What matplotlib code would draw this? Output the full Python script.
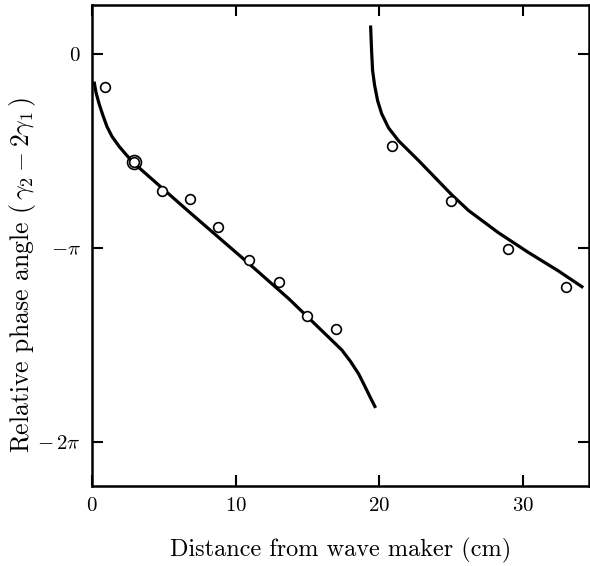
import numpy as np
import matplotlib
matplotlib.use("Agg")
from matplotlib import pyplot as plt

# measured points (cm, rad)
pts_x = [0.9, 2.9, 4.9, 6.8, 8.8, 10.9, 13.0, 15.0, 17.0, 20.9, 25.0, 29.0, 33.0]
pts_y = [-0.52, -1.75, -2.21, -2.35, -2.79, -3.34, -3.69, -4.24, -4.45, -1.48, -2.37, -3.15, -3.77]

# theory curves
c1_x = [0.14, 0.28, 0.49, 0.76, 1.04, 1.39, 1.88, 2.36, 2.85, 6.75, 10.92, 13.70,
        17.39, 18.01, 18.57, 18.98, 19.40, 19.75]
c1_y = [-0.44, -0.62, -0.80, -0.99, -1.17, -1.33, -1.49, -1.62, -1.75, -2.55, -3.39, -3.96,
        -4.79, -4.98, -5.18, -5.37, -5.57, -5.73]
c2_x = [19.40, 19.47, 19.54, 19.68, 19.89, 20.17, 20.65, 21.35, 22.74, 25.03, 26.22,
        28.30, 30.39, 32.48, 34.21]
c2_y = [0.47, 0.06, -0.26, -0.50, -0.75, -0.96, -1.19, -1.40, -1.72, -2.27, -2.53,
        -2.89, -3.21, -3.51, -3.78]

plt.rcParams["font.family"] = "serif"
plt.rcParams["font.serif"] = ["cmr10", "DejaVu Serif"]
plt.rcParams["mathtext.fontset"] = "cm"
plt.rcParams["axes.formatter.use_mathtext"] = True

fig = plt.figure(figsize=(5.9, 5.66), dpi=100)
ax = fig.add_axes([0.156, 0.141, 0.842, 0.850])

ax.plot(c1_x, c1_y, color="black", lw=2.3, solid_capstyle="butt", solid_joinstyle="round")
ax.plot(c2_x, c2_y, color="black", lw=2.3, solid_capstyle="butt", solid_joinstyle="round")
ax.plot(pts_x, pts_y, "o", ms=7, mfc="white", mec="black", mew=1.2, zorder=3)
ax.plot(pts_x[1], pts_y[1], "o", ms=10, mfc="none", mec="black", mew=1.2, zorder=3)

ax.set_xlim(0, 34.6)
ax.set_ylim(-7.0, 0.8)
ax.set_xticks([0, 10, 20, 30])
ax.set_yticks([0, -np.pi, -2 * np.pi])
ax.set_yticklabels(["$0$", r"$-\pi$", r"$-\,2\pi$"])
ax.tick_params(direction="in", length=8, width=1.5, top=True, right=True,
               labelsize=15, pad=8)
for s in ax.spines.values():
    s.set_linewidth(1.8)

ax.set_xlabel("Distance from wave maker (cm)", fontsize=17.5, labelpad=16)
ax.set_ylabel(r"Relative phase angle $(\,\gamma_2 - 2\gamma_1\,)$", fontsize=18.5)
ax.yaxis.set_label_coords(-0.108, 0.44)

fig.savefig("out.png", dpi=100)
